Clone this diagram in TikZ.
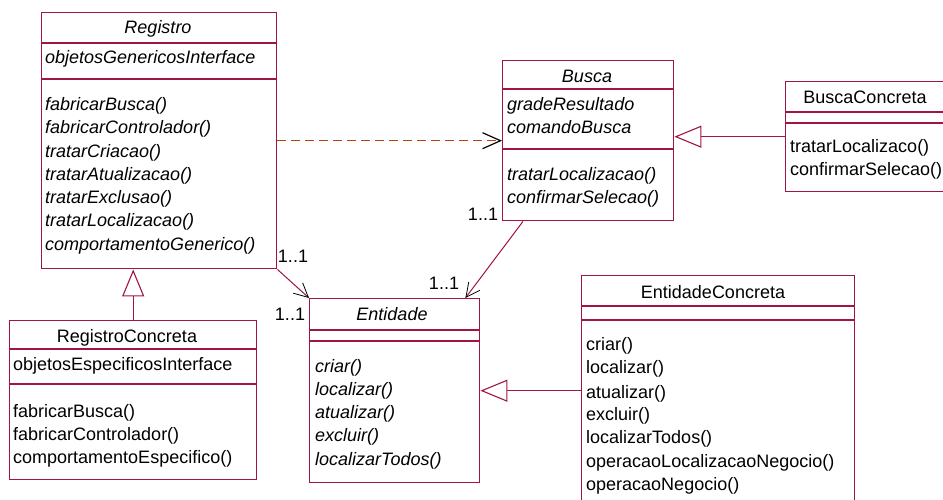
\documentclass[tikz,border=0pt]{standalone}
\usepackage{fontspec}
\setmainfont{Liberation Sans}
\usetikzlibrary{arrows.meta,calc}
\definecolor{uml}{RGB}{160,20,70}
\definecolor{dep}{RGB}{190,65,10}
\begin{document}
\begin{tikzpicture}[x=1pt,y=-1pt,
 box/.style={draw=uml,line width=1.4pt,rectangle,inner sep=0pt,anchor=north west,fill=white},
 sep/.style={draw=uml,line width=1.1pt},
 txt/.style={anchor=base west,inner sep=0pt,font=\fontsize{18}{22}\selectfont},
 ttl/.style={anchor=base,inner sep=0pt,font=\fontsize{18}{22}\selectfont},
 it/.style={font=\fontsize{18}{22}\selectfont\itshape},
 mult/.style={anchor=center,inner sep=0pt,font=\fontsize{18}{20}\selectfont},
 gen/.style={draw=uml,line width=1.1pt,-{Triangle[open,length=27pt,width=22pt,fill=white]}},
 assoc/.style={draw=uml,line width=1pt,-{Straight Barb[length=14pt,width=14pt,color=black,line width=0.8pt]}},
 depend/.style={draw=dep,line width=1.4pt,dash pattern=on 9pt off 5pt,-{Straight Barb[length=18pt,width=16pt,color=black,line width=1.2pt]}}]
\clip (0,0) rectangle (943,499);
\fill[white] (0,0) rectangle (943,499);

% boxes
\node[box,minimum width=235pt,minimum height=256pt] (reg) at (41,12) {};
\node[box,minimum width=171pt,minimum height=160pt] (busca) at (502,60) {};
\node[box,minimum width=162pt,minimum height=110pt] (bc) at (785,81) {};
\node[box,minimum width=170pt,minimum height=184pt] (ent) at (309,298) {};
\node[box,minimum width=273pt,minimum height=240pt] (ec) at (581,275) {};
\node[box,minimum width=247pt,minimum height=159pt] (rc) at (9,320) {};

% compartments
\draw[sep] (41,43) -- (276,43); \draw[sep] (41,79) -- (276,79);
\draw[sep] (502,89) -- (673,89); \draw[sep] (502,149) -- (673,149);
\draw[sep] (785,112) -- (947,112); \draw[sep] (785,123) -- (947,123);
\draw[sep] (309,330) -- (479,330); \draw[sep] (309,341) -- (479,341);
\draw[sep] (581,306) -- (854,306); \draw[sep] (581,320) -- (854,320);
\draw[sep] (9,349) -- (256,349); \draw[sep] (9,384) -- (256,384);

% Registro
\node[ttl,it] (regT) at (158,33) {Registro};
\node[txt,it] (regA) at (45,63) {objetosGenericosInterface};
\node[txt,it] (regM1) at (45,110) {fabricarBusca()};
\node[txt,it] (regM2) at (45,133) {fabricarControlador()};
\node[txt,it] (regM3) at (45,157) {tratarCriacao()};
\node[txt,it] (regM4) at (45,180) {tratarAtualizacao()};
\node[txt,it] (regM5) at (45,203) {tratarExclusao()};
\node[txt,it] (regM6) at (45,226) {tratarLocalizacao()};
\node[txt,it] (regM7) at (45,250) {comportamentoGenerico()};

% Busca
\node[ttl,it] (busT) at (587,82) {Busca};
\node[txt,it] (busA1) at (507,110) {gradeResultado};
\node[txt,it] (busA2) at (507,133) {comandoBusca};
\node[txt,it] (busM1) at (507,180) {tratarLocalizacao()};
\node[txt,it] (busM2) at (507,203) {confirmarSelecao()};

% BuscaConcreta
\node[ttl] (bcT) at (865,103) {BuscaConcreta};
\node[txt] (bcM1) at (790,152) {tratarLocalizaco()};
\node[txt] (bcM2) at (790,175) {confirmarSelecao()};

% Entidade
\node[ttl,it] (entT) at (392,320) {Entidade};
\node[txt,it] (entM1) at (315,372) {criar()};
\node[txt,it] (entM2) at (315,395) {localizar()};
\node[txt,it] (entM3) at (315,418) {atualizar()};
\node[txt,it] (entM4) at (315,441) {excluir()};
\node[txt,it] (entM5) at (315,465) {localizarTodos()};

% EntidadeConcreta
\node[ttl] (ecT) at (713,298) {EntidadeConcreta};
\node[txt] (ecM1) at (586,350) {criar()};
\node[txt] (ecM2) at (586,373) {localizar()};
\node[txt] (ecM3) at (586,398) {atualizar()};
\node[txt] (ecM4) at (586,420) {excluir()};
\node[txt] (ecM5) at (586,443) {localizarTodos()};
\node[txt] (ecM6) at (586,467) {operacaoLocalizacaoNegocio()};
\node[txt] (ecM7) at (586,490) {operacaoNegocio()};

% RegistroConcreta
\node[ttl] (rcT) at (127,342) {RegistroConcreta};
\node[txt] (rcA) at (13,370) {objetosEspecificosInterface};
\node[txt] (rcM1) at (13,417) {fabricarBusca()};
\node[txt] (rcM2) at (13,440) {fabricarControlador()};
\node[txt] (rcM3) at (13,463) {comportamentoEspecifico()};

% connectors
\draw[depend] (reg.east) -- (busca.west);
\draw[gen] (bc.west) -- (bc.west -| busca.east);
\draw[gen] (ec.west |- ent.east) -- (ent.east);
\draw[gen] (rc.north) -- (rc.north |- reg.south);
\draw[assoc] (reg.south east) -- (ent.north west);
\draw[assoc] ($(busca.south west)+(21,0)$) -- ($(ent.north east)+(-15,0)$);

% multiplicities
\node[mult] (m1) at (293,256) {1..1};
\node[mult] (m2) at (290,314) {1..1};
\node[mult] (m3) at (483,214) {1..1};
\node[mult] (m4) at (444,283) {1..1};
\end{tikzpicture}
\end{document}
